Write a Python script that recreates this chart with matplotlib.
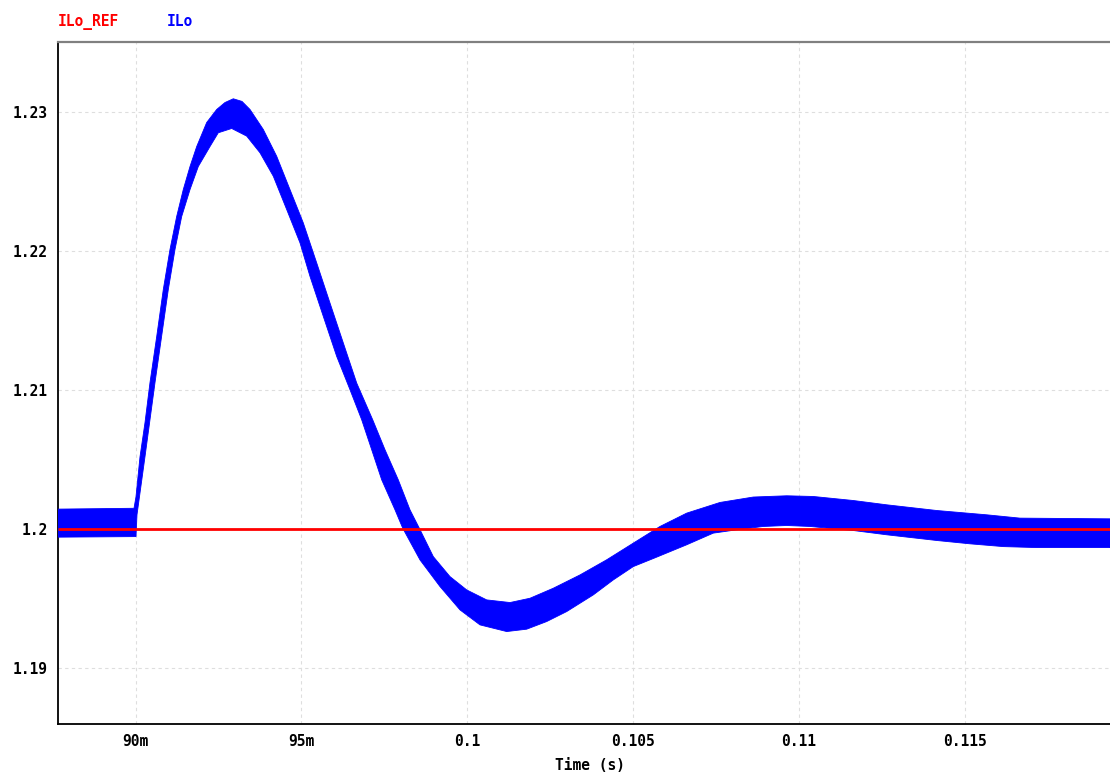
import numpy as np
import matplotlib
matplotlib.use("Agg")
import matplotlib.pyplot as plt

# ---- data (time in ms, current in A) ----
# ILo: upper envelope of the switching-ripple band
t_upper = [87.657, 89.949, 90.009, 90.130, 90.280, 90.431, 90.633, 90.832, 91.034,
           91.236, 91.435, 91.638, 91.840, 92.141, 92.443, 92.693, 92.943, 93.206,
           93.447, 93.848, 94.252, 94.653, 95.054, 95.458, 95.859, 96.261, 96.665,
           97.147, 97.518, 97.919, 98.272, 98.552, 98.975, 99.478, 99.982, 100.585,
           101.288, 101.891, 102.593, 103.399, 104.204, 105.006, 105.811, 106.616,
           107.621, 108.625, 109.632, 110.434, 111.640, 112.648, 114.156, 115.663,
           116.668, 119.382]
ilo_upper = [1.20142, 1.20148, 1.20231, 1.20519, 1.20764, 1.21053, 1.21384, 1.21723, 1.22012,
             1.22250, 1.22444, 1.22610, 1.22754, 1.22927, 1.23021, 1.23071, 1.23098, 1.23079,
             1.23021, 1.22877, 1.22684, 1.22444, 1.22204, 1.21916, 1.21627, 1.21339, 1.21050,
             1.20786, 1.20570, 1.20353, 1.20137, 1.20005, 1.19800, 1.19656, 1.19560, 1.19488,
             1.19469, 1.19500, 1.19572, 1.19668, 1.19777, 1.19897, 1.20017, 1.20113,
             1.20190, 1.20229, 1.20238, 1.20233, 1.20204, 1.20173, 1.20132, 1.20101,
             1.20077, 1.20072]

# ILo: lower envelope of the switching-ripple band
t_lower = [87.657, 90.009, 90.039, 90.280, 90.582, 90.983, 91.185, 91.387, 91.638,
           91.888, 92.241, 92.491, 92.895, 93.347, 93.748, 94.150, 94.554, 94.955,
           95.256, 95.657, 96.062, 96.463, 96.815, 97.117, 97.419, 97.820, 98.052,
           98.574, 99.177, 99.780, 100.383, 101.188, 101.791, 102.394, 102.998,
           103.800, 104.403, 105.006, 105.660, 106.616, 107.419, 108.124, 108.926,
           109.632, 110.335, 111.640, 112.648, 114.156, 115.160, 116.164, 117.171,
           119.382]
ilo_lower = [1.19940, 1.19944, 1.20101, 1.20519, 1.21053, 1.21723, 1.22012, 1.22250, 1.22444,
             1.22610, 1.22754, 1.22853, 1.22884, 1.22829, 1.22709, 1.22540, 1.22300, 1.22060,
             1.21819, 1.21531, 1.21242, 1.21002, 1.20786, 1.20570, 1.20353, 1.20137, 1.20005,
             1.19776, 1.19584, 1.19416, 1.19308, 1.19260, 1.19277, 1.19332, 1.19404,
             1.19524, 1.19632, 1.19728, 1.19791, 1.19885, 1.19969, 1.19993, 1.20017,
             1.20024, 1.20017, 1.19988, 1.19957, 1.19916, 1.19892, 1.19872, 1.19865,
             1.19865]

# ILo_REF: constant reference
t_ref = [87.657, 119.382]
ilo_ref = [1.2, 1.2]

x_ticks = [90, 95, 100, 105, 110, 115]
x_tick_labels = ["90m", "95m", "0.1", "0.105", "0.11", "0.115"]
y_ticks = [1.19, 1.20, 1.21, 1.22, 1.23]
y_tick_labels = ["1.19", "1.2", "1.21", "1.22", "1.23"]

# ---- figure ----
W, H = 1110, 775
fig = plt.figure(figsize=(W / 100, H / 100), dpi=100)
ax = fig.add_axes([58 / W, 51 / H, (W - 58) / W, (724 - 42) / H])

mono = ["DejaVu Sans Mono"]

poly_t = np.concatenate([np.asarray(t_upper), np.asarray(t_lower)[::-1]])
poly_v = np.concatenate([np.asarray(ilo_upper), np.asarray(ilo_lower)[::-1]])
ax.fill(poly_t, poly_v, color="#0000ff", lw=0.6, ec="#0000ff", zorder=3)
ax.plot(t_ref, ilo_ref, color="#ff0000", lw=2.0, zorder=4, solid_capstyle="butt")

ax.set_xlim(87.657, 119.382)
ax.set_ylim(1.18594, 1.23507)

ax.set_xticks(x_ticks)
ax.set_xticklabels(x_tick_labels, family=mono, fontweight="bold", fontsize=10.5)
ax.set_yticks(y_ticks)
ax.set_yticklabels(y_tick_labels, family=mono, fontweight="bold", fontsize=10.5)
ax.tick_params(axis="both", length=0)
ax.tick_params(axis="x", pad=7)
ax.tick_params(axis="y", pad=7.5)

ax.grid(True, color="#dedede", lw=0.8, linestyle=(0, (3, 3)), zorder=0)
ax.set_axisbelow(True)

for side in ["left", "bottom"]:
    ax.spines[side].set_color("#000000")
    ax.spines[side].set_linewidth(1.3)
ax.spines["top"].set_color("#808080")
ax.spines["top"].set_linewidth(1.6)
ax.spines["right"].set_visible(False)

fig.text(590 / W, 1 - 766 / H, "Time (s)", family=mono, fontweight="bold",
         fontsize=10.5, ha="center", va="center")

fig.text(58 / W, 1 - 22 / H, "ILo_REF", family=mono, fontweight="bold",
         fontsize=10.5, color="#ff0000", ha="left", va="center")
fig.text(167 / W, 1 - 22 / H, "ILo", family=mono, fontweight="bold",
         fontsize=10.5, color="#0000ff", ha="left", va="center")

fig.savefig("out.png", dpi=100)
